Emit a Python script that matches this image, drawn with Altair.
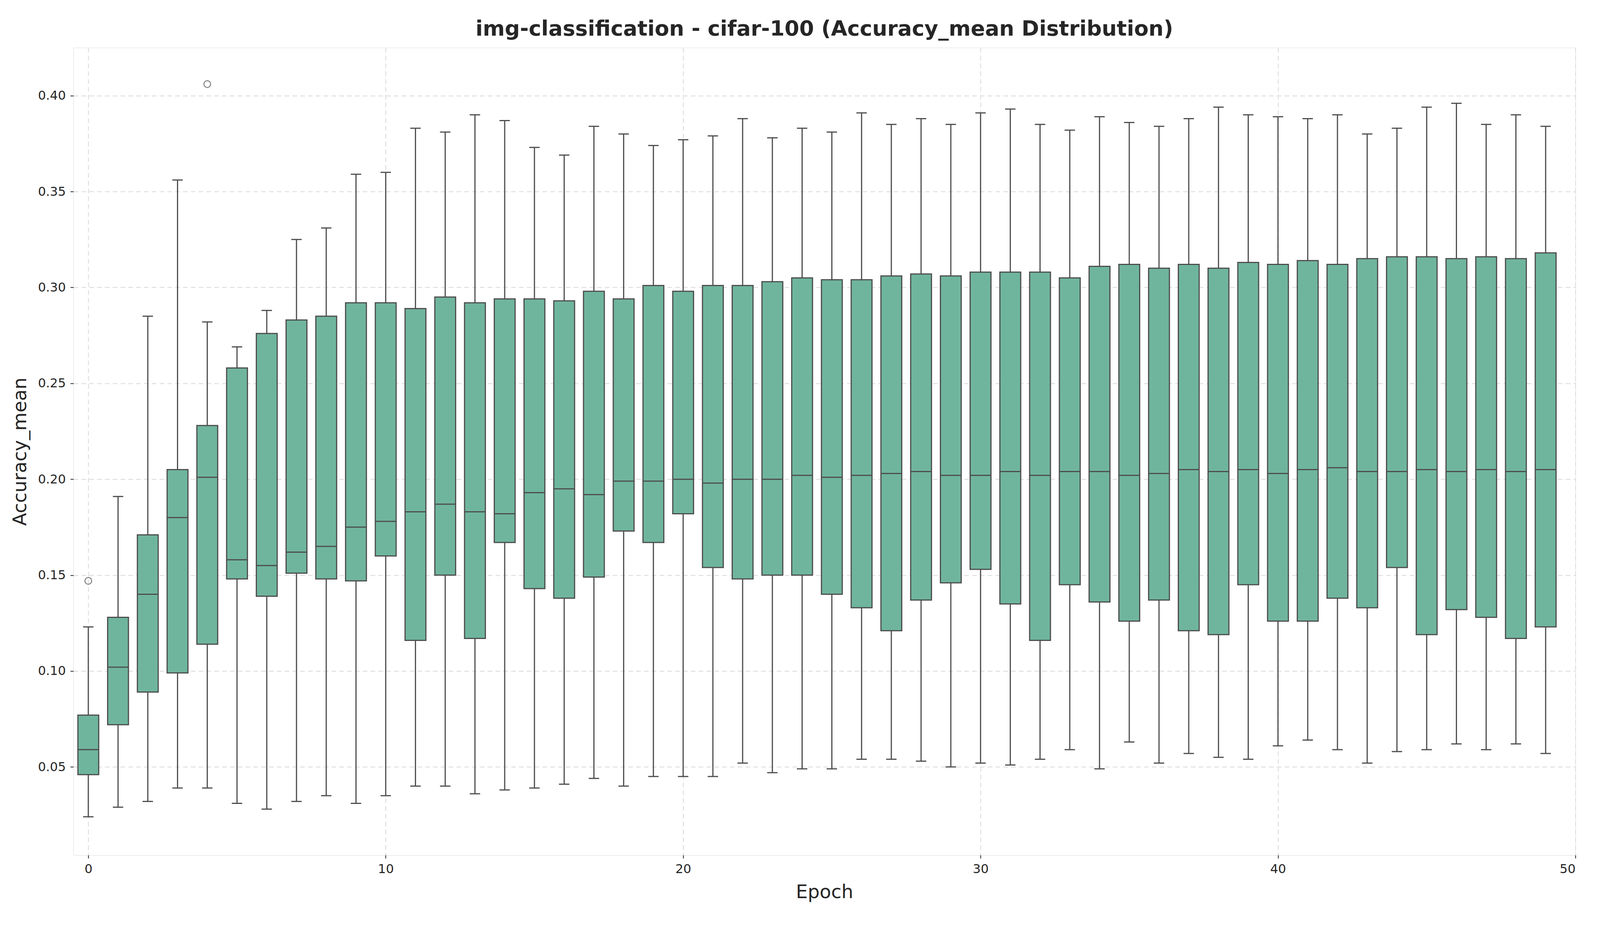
import altair as alt
import pandas as pd

epochs = list(range(50))
lo = [0.024, 0.029, 0.032, 0.039, 0.039, 0.031, 0.028, 0.032, 0.035, 0.031,
      0.035, 0.040, 0.040, 0.036, 0.038, 0.039, 0.041, 0.044, 0.040, 0.045,
      0.045, 0.045, 0.052, 0.047, 0.049, 0.049, 0.054, 0.054, 0.053, 0.050,
      0.052, 0.051, 0.054, 0.059, 0.049, 0.063, 0.052, 0.057, 0.055, 0.054,
      0.061, 0.064, 0.059, 0.052, 0.058, 0.059, 0.062, 0.059, 0.062, 0.057]
q1 = [0.046, 0.072, 0.089, 0.099, 0.114, 0.148, 0.139, 0.151, 0.148, 0.147,
      0.160, 0.116, 0.150, 0.117, 0.167, 0.143, 0.138, 0.149, 0.173, 0.167,
      0.182, 0.154, 0.148, 0.150, 0.150, 0.140, 0.133, 0.121, 0.137, 0.146,
      0.153, 0.135, 0.116, 0.145, 0.136, 0.126, 0.137, 0.121, 0.119, 0.145,
      0.126, 0.126, 0.138, 0.133, 0.154, 0.119, 0.132, 0.128, 0.117, 0.123]
med = [0.059, 0.102, 0.140, 0.180, 0.201, 0.158, 0.155, 0.162, 0.165, 0.175,
       0.178, 0.183, 0.187, 0.183, 0.182, 0.193, 0.195, 0.192, 0.199, 0.199,
       0.200, 0.198, 0.200, 0.200, 0.202, 0.201, 0.202, 0.203, 0.204, 0.202,
       0.202, 0.204, 0.202, 0.204, 0.204, 0.202, 0.203, 0.205, 0.204, 0.205,
       0.203, 0.205, 0.206, 0.204, 0.204, 0.205, 0.204, 0.205, 0.204, 0.205]
q3 = [0.077, 0.128, 0.171, 0.205, 0.228, 0.258, 0.276, 0.283, 0.285, 0.292,
      0.292, 0.289, 0.295, 0.292, 0.294, 0.294, 0.293, 0.298, 0.294, 0.301,
      0.298, 0.301, 0.301, 0.303, 0.305, 0.304, 0.304, 0.306, 0.307, 0.306,
      0.308, 0.308, 0.308, 0.305, 0.311, 0.312, 0.310, 0.312, 0.310, 0.313,
      0.312, 0.314, 0.312, 0.315, 0.316, 0.316, 0.315, 0.316, 0.315, 0.318]
hi = [0.123, 0.191, 0.285, 0.356, 0.282, 0.269, 0.288, 0.325, 0.331, 0.359,
      0.360, 0.383, 0.381, 0.390, 0.387, 0.373, 0.369, 0.384, 0.380, 0.374,
      0.377, 0.379, 0.388, 0.378, 0.383, 0.381, 0.391, 0.385, 0.388, 0.385,
      0.391, 0.393, 0.385, 0.382, 0.389, 0.386, 0.384, 0.388, 0.394, 0.390,
      0.389, 0.388, 0.390, 0.380, 0.383, 0.394, 0.396, 0.385, 0.390, 0.384]
outlier_epoch = [0, 4]
outlier_value = [0.147, 0.406]

df = pd.DataFrame({"epoch": epochs, "lo": lo, "q1": q1, "med": med, "q3": q3, "hi": hi})
out = pd.DataFrame({"epoch": outlier_epoch, "value": outlier_value})

LINE = "#4d4d4d"
TXT = "#262626"
axis_style = dict(labelFontSize=32, titleFontSize=48, titleFontWeight="normal",
                  labelColor=TXT, titleColor=TXT, grid=True, gridDash=[12, 8],
                  gridColor="#e0e0e0", gridWidth=2.5, domain=False, ticks=True,
                  tickColor=TXT, tickSize=8, tickWidth=2, labelPadding=12, titlePadding=20)
xs = alt.Scale(domain=[-0.5, 50], nice=False, zero=False)
ys = alt.Scale(domain=[0.004, 0.425], nice=False, zero=False)
xax = alt.Axis(values=[0, 10, 20, 30, 40, 50], title="Epoch", format="d", **axis_style)
yax = alt.Axis(values=[0.05, 0.10, 0.15, 0.20, 0.25, 0.30, 0.35, 0.40], format=".2f",
               title="Accuracy_mean", **axis_style)

base = alt.Chart(df).transform_calculate(
    bl="datum.epoch - 0.35", br="datum.epoch + 0.35",
    cl="datum.epoch - 0.175", cr="datum.epoch + 0.175")

whisk_lo = base.mark_rule(color=LINE, strokeWidth=3).encode(
    x=alt.X("epoch:Q", scale=xs, axis=xax), y=alt.Y("lo:Q", scale=ys, axis=yax), y2="q1:Q")
whisk_hi = base.mark_rule(color=LINE, strokeWidth=3).encode(
    x="epoch:Q", y="q3:Q", y2="hi:Q")
cap_lo = base.mark_rule(color=LINE, strokeWidth=3).encode(x="cl:Q", x2="cr:Q", y="lo:Q")
cap_hi = base.mark_rule(color=LINE, strokeWidth=3).encode(x="cl:Q", x2="cr:Q", y="hi:Q")
box = base.mark_bar(fill="#6fb59d", stroke=LINE, strokeWidth=3).encode(
    x="bl:Q", x2="br:Q", y="q1:Q", y2="q3:Q")
median = base.mark_rule(color=LINE, strokeWidth=3).encode(x="bl:Q", x2="br:Q", y="med:Q")
outliers = alt.Chart(out).mark_point(shape="circle", size=300, color=LINE, filled=False,
                                     strokeWidth=2.5).encode(x="epoch:Q", y="value:Q")

chart = (whisk_lo + whisk_hi + cap_lo + cap_hi + box + median + outliers).properties(
    width=3845, height=2066,
    padding={"left": 20, "top": 40, "right": 40, "bottom": 20},
    title=alt.TitleParams("img-classification - cifar-100 (Accuracy_mean Distribution)",
                          fontSize=54, fontWeight="bold", color=TXT, offset=20),
).configure_view(stroke="#cccccc", strokeWidth=3).configure(
    font="DejaVu Sans", background="white")

chart.save("out.html", embed_options={"renderer": "svg", "actions": False})
